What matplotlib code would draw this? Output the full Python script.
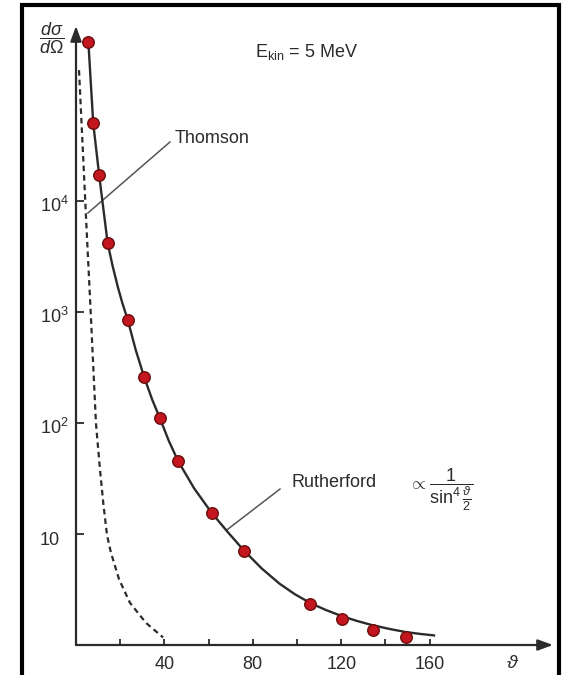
import matplotlib
matplotlib.use("Agg")
import matplotlib.pyplot as plt
from matplotlib.patches import Rectangle
from matplotlib.ticker import NullLocator
from matplotlib.transforms import ScaledTranslation

plt.rcParams['font.family'] = ['Liberation Sans', 'DejaVu Sans']
plt.rcParams['mathtext.fontset'] = 'custom'
plt.rcParams['mathtext.rm'] = 'Liberation Sans'
plt.rcParams['mathtext.it'] = 'Liberation Sans:italic'
plt.rcParams['mathtext.bf'] = 'Liberation Sans:bold'

# measured scattering cross sections (scattering angle in degrees)
theta_meas = [5.6, 7.8, 10.5, 14.3, 23.4, 30.9, 38.0, 46.3, 61.4, 76.0,
              105.9, 120.2, 134.2, 149.3]
xsec_meas = [2.7e5, 5.0e4, 1.7e4, 4.2e3, 850, 257, 110, 45, 15.5, 7.1,
             2.34, 1.71, 1.36, 1.18]

# Rutherford prediction
theta_ruth = [5.6, 7.8, 10.5, 14.3, 16.5, 19.0, 21.0, 23.4, 27.0, 30.9,
              34.5, 38.0, 42.0, 46.3, 53.5, 61.4, 68.5, 76.0, 84.0, 92.0,
              99.0, 106.0, 113.0, 120.0, 127.0, 134.0, 141.5, 149.0, 155.5,
              162.0]
xsec_ruth = [2.7e5, 5.0e4, 1.7e4, 4.2e3, 2630, 1660, 1200, 850, 457, 257,
             162, 110, 69, 45, 25.7, 15.5, 10.5, 7.1, 4.9, 3.58,
             2.87, 2.39, 2.07, 1.83, 1.65, 1.51, 1.40, 1.31, 1.26,
             1.22]

# Thomson model prediction
theta_thom = [1.36, 2.4, 3.53, 4.52, 6.52, 9.05, 10.86, 12.44, 14.03, 15.8,
              19.5, 24.4, 31.7, 39.4]
xsec_thom = [1.51e5, 5.6e4, 1.9e4, 7.2e3, 1.12e3, 98, 38, 18.2, 9.8, 6.8,
             3.9, 2.4, 1.58, 1.17]

x_ticks = [20, 40, 60, 80, 100, 120, 140, 160]
x_ticklabels = ['', '40', '', '80', '', '120', '', '160']
y_ticks = [10, 100, 1000, 10000]
y_ticklabels = ['10', '$10^2$', '$10^3$', '$10^4$']

W, H = 567, 675
ink = '#2b2b2b'

fig = plt.figure(figsize=(W / 100, H / 100), dpi=100)
fig.patch.set_facecolor('white')

# black frame around the whole figure
fig.patches.append(Rectangle((22 / W, -0.05), (559 - 22) / W, 1.05 - 5 / H,
                             transform=fig.transFigure, fill=False,
                             edgecolor='black', linewidth=3.0))

ax = fig.add_axes([76 / W, 30 / H, (553 - 76) / W, (645 - 26) / H])
ax.set_yscale('log')
ax.set_xlim(0, (553 - 76) / 2.21)
ax.set_ylim(1, 10 ** ((645 - 26) / 111))
for s in ax.spines.values():
    s.set_visible(False)
ax.patch.set_alpha(0)

# axes with arrow heads
arrow_kw = dict(arrowstyle='-|>,head_length=0.6,head_width=0.22',
                color=ink, lw=1.6, shrinkA=0, shrinkB=0, mutation_scale=15)
ax.annotate('', xy=(1, 0), xytext=(0, 0), xycoords='axes fraction',
            textcoords='axes fraction', arrowprops=arrow_kw, annotation_clip=False)
ax.annotate('', xy=(0, 1), xytext=(0, 0), xycoords='axes fraction',
            textcoords='axes fraction', arrowprops=arrow_kw, annotation_clip=False)

ax.set_xticks(x_ticks)
ax.set_xticklabels(x_ticklabels)
ax.tick_params(axis='x', direction='in', length=4.5, width=1.3, color=ink,
               pad=8, labelsize=13, labelcolor=ink)
ax.set_yticks(y_ticks)
ax.yaxis.set_minor_locator(NullLocator())
ax.set_yticklabels([''] * len(y_ticks))
ax.tick_params(axis='y', direction='in', length=6, width=1.3, color=ink, pad=0)

ylab_tr = ax.get_yaxis_transform() + ScaledTranslation(-0.36, -0.11, fig.dpi_scale_trans)
for v, lab in zip(y_ticks, y_ticklabels):
    ax.text(0, v, lab, transform=ylab_tr, ha='left', va='baseline',
            fontsize=13, color=ink)

# curves and data
ax.plot(theta_thom, xsec_thom, color=ink, lw=1.6, linestyle=(0, (2.5, 1.8)),
        clip_on=False)
ax.plot(theta_ruth, xsec_ruth, color=ink, lw=1.7, clip_on=False, zorder=3)
ax.plot(theta_meas, xsec_meas, 'o', ms=8.3, mfc='#c4161f', mec='#6a0d0d',
        mew=1.0, clip_on=False, zorder=4)

# labels with leader lines
ax.plot([42.5, 5.4], [3.4e4, 7.8e3], color='#555555', lw=1.1)
ax.text(44.8, 10 ** 4.56, 'Thomson', fontsize=13, color=ink, va='center', ha='left')
ax.plot([92.3, 68.3], [25.4, 10.9], color='#555555', lw=1.1)
ax.text(97.7, 10 ** 1.46, 'Rutherford', fontsize=13, color=ink, va='center', ha='left')
ax.text(150.5, 10 ** 1.40, r'$\propto\dfrac{1}{\sin^4\frac{\vartheta}{2}}$',
        fontsize=13, color=ink, va='center', ha='left')

fig.text(307 / W, 1 - 57 / H, r'E$_{\rm kin}$ = 5 MeV', fontsize=13, color=ink,
         ha='center', va='baseline')
fig.text(52 / W, 1 - 38 / H, r'$\dfrac{d\sigma}{d\Omega}$', fontsize=13, color=ink,
         ha='center', va='center')
fig.text(513 / W, 1 - 663 / H, r'$\vartheta$', fontsize=14, color=ink,
         ha='center', va='center')

fig.savefig('out.png', dpi=100)
